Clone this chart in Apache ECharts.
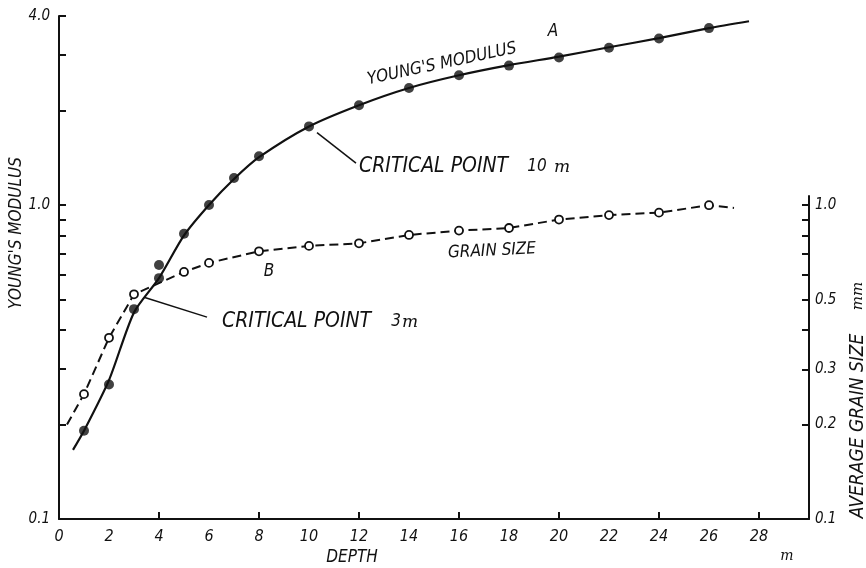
<!DOCTYPE html>
<html>
<head>
<meta charset="utf-8">
<script src="https://cdn.jsdelivr.net/npm/echarts@6/dist/echarts.min.js"></script>
<style>
html,body{margin:0;padding:0;background:#fff;}
#c{width:866px;height:568px;}
</style>
</head>
<body>
<div id="c"></div>
<script>
// ---- data ----
var modDepth = [1, 2, 3, 4, 4, 5, 6, 7, 8, 10, 12, 14, 16, 18, 20, 22, 24, 26];
var modValue = [0.191, 0.268, 0.466, 0.585, 0.644, 0.81, 1.00, 1.22, 1.43, 1.78, 2.08, 2.36, 2.59, 2.78, 2.95, 3.17, 3.39, 3.66];
var curveDepth = [0.56, 1, 2, 3, 4, 5, 6, 7, 8, 10, 12, 14, 16, 18, 20, 22, 24, 26, 27.6];
var curveValue = [0.166, 0.191, 0.277, 0.455, 0.585, 0.80, 1.00, 1.21, 1.42, 1.78, 2.08, 2.36, 2.59, 2.79, 2.97, 3.18, 3.40, 3.66, 3.85];
var grainDepth = [0.32, 1, 2, 3, 5, 6, 8, 10, 12, 14, 16, 18, 20, 22, 24, 26, 27.0];
var grainValue = [0.2, 0.25, 0.378, 0.52, 0.613, 0.655, 0.713, 0.742, 0.756, 0.804, 0.83, 0.846, 0.90, 0.93, 0.947, 1.0, 0.98];
var grainMarked = [false, true, true, true, true, true, true, true, true, true, true, true, true, true, true, true, false];
var xLabelTicks = [0, 2, 4, 6, 8, 10, 12, 14, 16, 18, 20, 22, 24, 26, 28];
var xMajorTicks = [4, 8, 12, 16, 20, 24, 28];
var leftTicks = [0.1, 0.2, 0.3, 0.4, 0.5, 0.6, 0.7, 0.8, 0.9, 1, 2, 3, 4];
var leftLabels = [0.1, 1, 4];
var rightTicks = [0.1, 0.2, 0.3, 0.4, 0.5, 0.6, 0.7, 0.8, 0.9, 1];
var rightLabels = [0.1, 0.2, 0.3, 0.5, 1];

var FONT = "'DejaVu Sans Condensed','Liberation Sans Narrow','DejaVu Sans',sans-serif";
var SERIF = "'DejaVu Serif','Liberation Serif',serif";
var INK = '#111';

function zip(a, b) { return a.map(function (v, i) { return [v, b[i]]; }); }

var chart = echarts.init(document.getElementById('c'), null, {renderer: 'canvas'});

var lblStyle = {color: INK, fontFamily: FONT, fontStyle: 'italic', fontSize: 16};

var option = {
  backgroundColor: '#fff',
  animation: false,
  grid: [
    {left: 59, right: 57, top: 16, bottom: 49},
    {left: 59, right: 57, top: 196, bottom: 49}
  ],
  xAxis: [
    {
      gridIndex: 0, type: 'value', min: 0, max: 30, interval: 2,
      axisLine: {show: true, onZero: false, lineStyle: {color: INK, width: 2}},
      axisTick: {show: false},
      splitLine: {show: false},
      axisLabel: Object.assign({customValues: xLabelTicks, margin: 10}, lblStyle)
    },
    {
      gridIndex: 1, type: 'value', min: 0, max: 30, interval: 4,
      axisLine: {show: false, onZero: false},
      axisTick: {show: true, inside: true, length: 7, customValues: xMajorTicks, lineStyle: {color: INK, width: 2}},
      splitLine: {show: false},
      axisLabel: {show: false}
    }
  ],
  yAxis: [
    {
      gridIndex: 0, type: 'log', min: 0.1, max: 4, logBase: 10,
      axisLine: {show: true, onZero: false, lineStyle: {color: INK, width: 2}},
      axisTick: {show: true, inside: true, length: 7, customValues: leftTicks, lineStyle: {color: INK, width: 2}},
      minorTick: {show: false},
      splitLine: {show: false},
      axisLabel: Object.assign({customValues: leftLabels, margin: 9,
        formatter: function (v) { return Number(v).toFixed(1); }}, lblStyle, {fontSize: 15})
    },
    {
      gridIndex: 1, type: 'log', min: 0.1, max: 1.07, logBase: 10, position: 'right',
      axisLine: {show: true, onZero: false, lineStyle: {color: INK, width: 2}},
      axisTick: {show: true, inside: true, length: 7, customValues: rightTicks, lineStyle: {color: INK, width: 2}},
      minorTick: {show: false},
      splitLine: {show: false},
      axisLabel: Object.assign({customValues: rightLabels, margin: 6,
        formatter: function (v) { return Number(v).toFixed(1); }}, lblStyle, {fontSize: 15})
    }
  ],
  series: [
    {
      name: 'curveA', type: 'line', xAxisIndex: 0, yAxisIndex: 0,
      data: zip(curveDepth, curveValue), smooth: 0.25,
      showSymbol: false, symbol: 'none',
      lineStyle: {color: INK, width: 2.2}, silent: true, z: 3
    },
    {
      name: 'modulus', type: 'scatter', xAxisIndex: 0, yAxisIndex: 0,
      data: zip(modDepth, modValue), symbol: 'circle', symbolSize: 10,
      itemStyle: {color: INK}, silent: true, z: 5,
      markLine: {
        silent: true, symbol: 'none', label: {show: false},
        lineStyle: {color: INK, width: 1.5, type: 'solid'},
        data: [[{coord: [10.32, 1.70]}, {coord: [11.88, 1.36]}]]
      }
    },
    {
      name: 'grain', type: 'line', xAxisIndex: 1, yAxisIndex: 1,
      data: grainDepth.map(function (d, i) {
        return grainMarked[i] ? {value: [d, grainValue[i]]} : {value: [d, grainValue[i]], symbol: 'none'};
      }),
      symbol: 'circle', symbolSize: 8, showSymbol: true,
      itemStyle: {color: '#fff', borderColor: INK, borderWidth: 1.8},
      lineStyle: {color: INK, width: 2, type: [9, 5]}, silent: true, z: 4,
      markLine: {
        silent: true, symbol: 'none', label: {show: false},
        lineStyle: {color: INK, width: 1.5, type: 'solid'},
        data: [[{coord: [3.4, 0.509]}, {coord: [5.92, 0.44]}]]
      }
    }
  ],
  graphic: [
    {type: 'text', x: 17, y: 233, rotation: Math.PI / 2,
      style: {text: "YOUNG'S MODULUS", font: 'italic 17px ' + FONT, fill: INK, textAlign: 'center', textVerticalAlign: 'middle'}},
    {type: 'text', x: 858, y: 426, rotation: Math.PI / 2,
      style: {text: 'AVERAGE GRAIN SIZE', font: 'italic 19px ' + FONT, fill: INK, textAlign: 'center', textVerticalAlign: 'middle'}},
    {type: 'text', x: 858, y: 296, rotation: Math.PI / 2,
      style: {text: 'mm', font: 'italic 15px ' + SERIF, fill: INK, textAlign: 'center', textVerticalAlign: 'middle'}},
    {type: 'text', x: 352, y: 558,
      style: {text: 'DEPTH', font: 'italic 17px ' + FONT, fill: INK, textAlign: 'center', textVerticalAlign: 'middle'}},
    {type: 'text', x: 787, y: 556,
      style: {text: 'm', font: 'italic 14px ' + SERIF, fill: INK, textAlign: 'center', textVerticalAlign: 'middle'}},
    {type: 'text', x: 442, y: 64, rotation: 0.21,
      style: {text: "YOUNG'S MODULUS", font: 'italic 17px ' + FONT, fill: INK, textAlign: 'center', textVerticalAlign: 'middle'}},
    {type: 'text', x: 553, y: 32,
      style: {text: 'A', font: 'italic 17px ' + FONT, fill: INK, textAlign: 'center', textVerticalAlign: 'middle'}},
    {type: 'text', x: 269, y: 272,
      style: {text: 'B', font: 'italic 17px ' + FONT, fill: INK, textAlign: 'center', textVerticalAlign: 'middle'}},
    {type: 'text', x: 492, y: 251, rotation: 0.05,
      style: {text: 'GRAIN SIZE', font: 'italic 17px ' + FONT, fill: INK, textAlign: 'center', textVerticalAlign: 'middle'}},
    {type: 'text', x: 359, y: 167,
      style: {text: 'CRITICAL POINT', font: 'italic 21px ' + FONT, fill: INK, textAlign: 'left', textVerticalAlign: 'middle'}},
    {type: 'text', x: 537, y: 167,
      style: {text: '10', font: 'italic 17px ' + FONT, fill: INK, textAlign: 'center', textVerticalAlign: 'middle'}},
    {type: 'text', x: 562, y: 168,
      style: {text: 'm', font: 'italic 17px ' + SERIF, fill: INK, textAlign: 'center', textVerticalAlign: 'middle'}},
    {type: 'text', x: 222, y: 322,
      style: {text: 'CRITICAL POINT', font: 'italic 21px ' + FONT, fill: INK, textAlign: 'left', textVerticalAlign: 'middle'}},
    {type: 'text', x: 396, y: 322,
      style: {text: '3', font: 'italic 17px ' + FONT, fill: INK, textAlign: 'center', textVerticalAlign: 'middle'}},
    {type: 'text', x: 410, y: 323,
      style: {text: 'm', font: 'italic 17px ' + SERIF, fill: INK, textAlign: 'center', textVerticalAlign: 'middle'}}
  ]
};
chart.setOption(option);
</script>
</body>
</html>
